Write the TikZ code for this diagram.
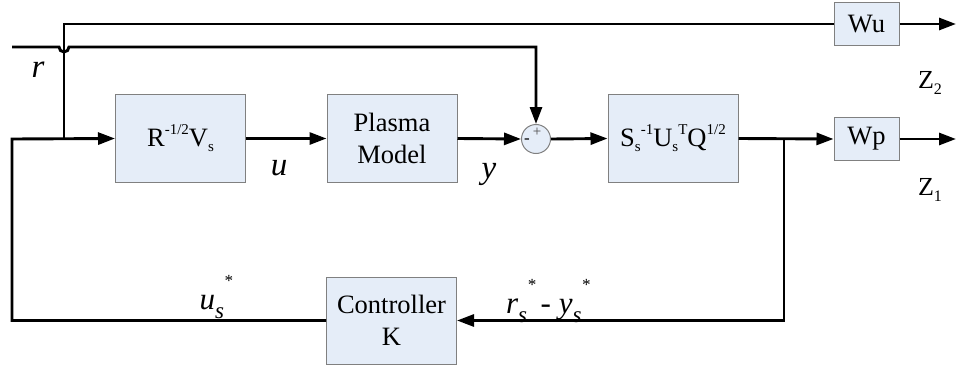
\documentclass[tikz,border=0pt]{standalone}
\usepackage{fontspec}
\setmainfont{Liberation Serif}
\usetikzlibrary{arrows.meta}
\definecolor{boxfill}{RGB}{229,237,248}
\definecolor{boxline}{RGB}{128,128,128}
\newcommand{\mysup}[1]{\raisebox{0.42em}{\fontsize{15}{15}\selectfont #1}}
\newcommand{\mysub}[1]{\raisebox{-0.22em}{\fontsize{15}{15}\selectfont #1}}
\newcommand{\zsub}[1]{\raisebox{-0.2em}{\fontsize{16}{16}\selectfont #1}}
\newcommand{\isub}[1]{\raisebox{-0.3em}{\fontsize{23}{23}\selectfont\itshape #1}}
\newcommand{\istar}{\raisebox{0.72em}{\fontsize{17}{17}\selectfont *}}
\begin{document}
\begin{tikzpicture}[x=1pt,y=-1pt,
  blk/.style={draw=boxline,line width=1pt,fill=boxfill,minimum width=130pt,minimum height=87pt,inner sep=0pt,align=center,font=\fontsize{26.5}{32}\selectfont},
  wblk/.style={draw=boxline,line width=1pt,fill=boxfill,minimum width=65pt,minimum height=43pt,inner sep=0pt,font=\fontsize{26.5}{32}\selectfont},
  sig/.style={line width=2.9pt,line join=miter},
  arr/.style={sig,-{Triangle[length=17pt,width=12pt]}},
  lab/.style={inner sep=0pt,font=\fontsize{33}{34}\selectfont\itshape},
  slab/.style={inner sep=0pt,font=\fontsize{31}{34}\selectfont\itshape},
  zlab/.style={inner sep=0pt,font=\fontsize{26}{28}\selectfont}]
\useasboundingbox (0,0) rectangle (959,369);
% blocks
\node[blk] (R) at (180.5,138.5) {R\mysup{-1/2}V\mysub{s}};
\node[blk] (P) at (392,138.5) {Plasma\\Model};
\node[draw=boxline,line width=1pt,fill=boxfill,circle,minimum size=29pt,inner sep=0pt] (sum) at (536,139) {};
\node[inner sep=0pt,font=\fontsize{15}{15}\selectfont,text=black!70] (plus) at (537,132) {+};
\node[inner sep=0pt,font=\fontsize{17}{17}\selectfont] (minus) at (527,141) {-};
\node[blk] (S) at (673,138.5) {S\mysub{s}\mysup{-1}U\mysub{s}\mysup{T}Q\mysup{1/2}};
\node[wblk] (Wp) at (866.5,139) {Wp};
\node[wblk] (Wu) at (866.5,24) {Wu};
\node[blk] (C) at (391.5,320.5) {Controller\\K};
% coordinates
\coordinate (lc) at (12,139);
\coordinate (tj) at (64,139);
\coordinate (tc) at (64,24);
\coordinate (rin) at (12,47);
\coordinate (ra) at (59,47);
\coordinate (rc) at (536,47);
\coordinate (rj) at (784,139);
\coordinate (zu) at (956,24);
\coordinate (zp) at (956,139);
% connectors
\draw[arr] (C.west) -| (lc) -- (R.west);
\draw[sig] (tj) -- (tc) -- (Wu.west);
\draw[arr] (Wu.east) -- (zu);
\draw[arr] (rin) -- (ra) arc[start angle=180,end angle=0,radius=5] -- (rc) -- (sum.north);
\draw[arr] (R.east) -- (P.west);
\draw[arr] (P.east) -- (sum.west);
\draw[arr] (sum.east) -- (S.west);
\draw[arr] (S.east) -- (Wp.west);
\draw[arr] (Wp.east) -- (zp);
\draw[arr] (rj) |- (C.east);
% labels
\node[lab] (lr) at (38,70) {r};
\node[lab] (lu) at (279,168) {u};
\node[lab] (ly) at (489,174) {y};
\node[slab,anchor=base] (lus) at (216,309) {u\isub{s}\istar};
\node[slab,anchor=base] (lrs) at (548,313) {r\isub{s}\istar\,{\upshape-} y\isub{s}\istar};
\node[zlab] (z2) at (930,83) {Z\zsub{2}};
\node[zlab] (z1) at (930,190) {Z\zsub{1}};
\end{tikzpicture}
\end{document}
